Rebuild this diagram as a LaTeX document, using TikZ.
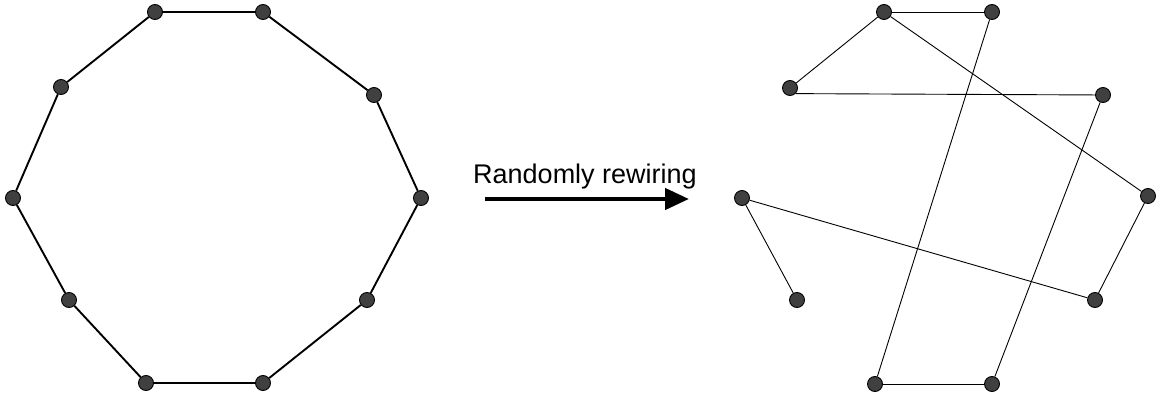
\documentclass[tikz,border=0pt]{standalone}
\usepackage{fontspec}
\setmainfont{Liberation Sans}
\usetikzlibrary{arrows.meta}
\begin{document}
\begin{tikzpicture}[x=1pt,y=-1pt,
  vtx/.style={circle,draw=black,fill=black!75,line width=0.9pt,minimum size=15pt,inner sep=0pt},
  ring/.style={line width=1.9pt},
  wire/.style={line width=0.9pt}]
\useasboundingbox (0,0) rectangle (1160,398);
% left ring
\node[vtx] (A) at (155,12) {};
\node[vtx] (B) at (263,12) {};
\node[vtx] (C) at (374,95) {};
\node[vtx] (D) at (421,198) {};
\node[vtx] (E) at (367,300) {};
\node[vtx] (F) at (263,383) {};
\node[vtx] (G) at (146,383) {};
\node[vtx] (H) at (69,300) {};
\node[vtx] (I) at (13,198) {};
\node[vtx] (J) at (61,87) {};
\draw[ring] (A) -- (B);
\draw[ring] (B) -- (C);
\draw[ring] (C) -- (D);
\draw[ring] (D) -- (E);
\draw[ring] (E) -- (F);
\draw[ring] (F) -- (G);
\draw[ring] (G) -- (H);
\draw[ring] (H) -- (I);
\draw[ring] (I) -- (J);
\draw[ring] (J) -- (A);
% right graph
\node[vtx] (a) at (884,12) {};
\node[vtx] (b) at (992,12) {};
\node[vtx] (c) at (1103,95) {};
\node[vtx] (d) at (1148,196) {};
\node[vtx] (e) at (1095,300) {};
\node[vtx] (f) at (992,384) {};
\node[vtx] (g) at (875,384) {};
\node[vtx] (h) at (797,300) {};
\node[vtx] (i) at (742,198) {};
\node[vtx] (j) at (790,88) {};
\draw[wire] (a) -- (b);
\draw[wire] (a) -- (j);
\draw[wire] (j.south east) -- (c);
\draw[wire] (a) -- (d);
\draw[wire] (b) -- (g);
\draw[wire] (c) -- (f);
\draw[wire] (d) -- (e);
\draw[wire] (e) -- (i);
\draw[wire] (i) -- (h);
\draw[wire] (g) -- (f);
% arrow
\coordinate (s) at (485,199);
\coordinate (t) at (689,199);
\draw[line width=4.5pt,-{Triangle[length=24pt,width=21pt]}] (s) -- (t);
\node[anchor=base,font=\fontsize{27}{30}\selectfont,inner sep=0pt] (lbl) at (585,184) {Randomly rewiring};
\end{tikzpicture}
\end{document}
